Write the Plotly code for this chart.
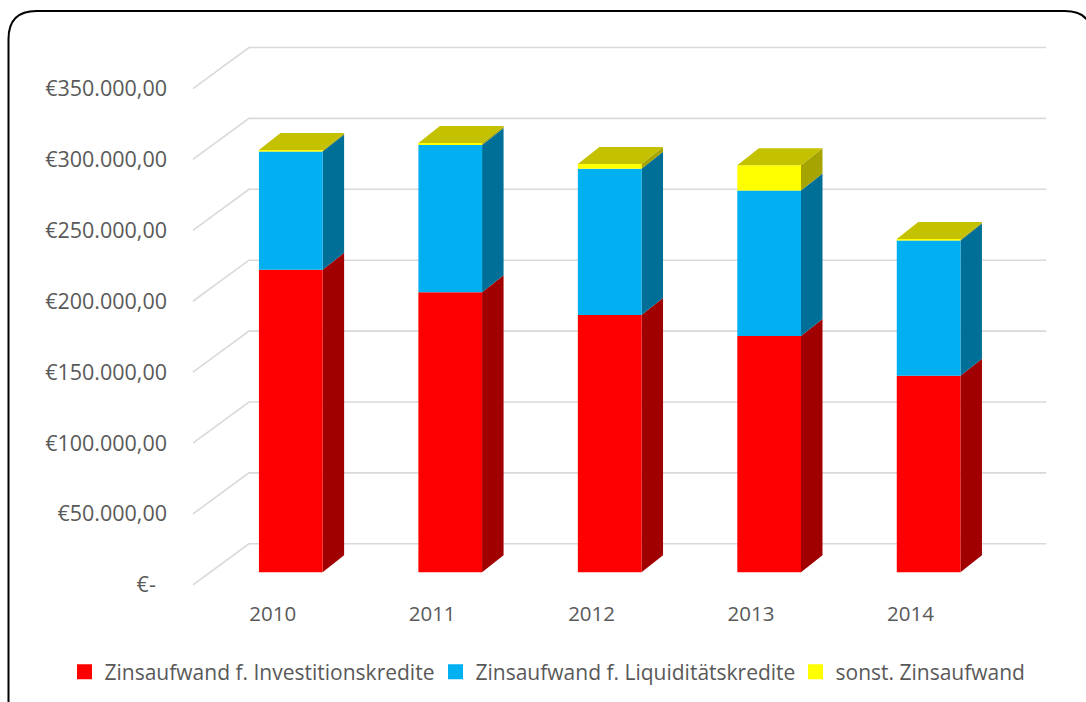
import plotly.graph_objects as go

# ---- data ----
years = ["2010", "2011", "2012", "2013", "2014"]
invest = [213300, 197500, 181500, 166700, 138600]      # Zinsaufwand f. Investitionskredite
liquid = [83500, 103800, 103100, 102600, 95400]        # Zinsaufwand f. Liquiditätskredite
sonst = [1000, 1400, 3300, 17700, 1000]                # sonst. Zinsaufwand
tick_vals = [0, 50000, 100000, 150000, 200000, 250000, 300000, 350000]
tick_text = ["€-\u00a0\u00a0", "€50.000,00", "€100.000,00", "€150.000,00", "€200.000,00",
             "€250.000,00", "€300.000,00", "€350.000,00"]
series_names = ["Zinsaufwand f. Investitionskredite", "Zinsaufwand f. Liquiditätskredite",
                "sonst. Zinsaufwand"]

# ---- styling / pseudo-3D geometry (in axis units) ----
front_col = ["#FF0000", "#00B0F0", "#FFFF00"]
side_col = ["#A00000", "#006F98", "#A6A400"]
top_col = "#C4C200"
grid_col = "#D9D9D9"
txt_col = "#595959"
FONT = "Open Sans"

bar_w = 0.3994        # bar front width (category units)
fx = 0.1135           # bar front x shift relative to category centre
fy = 8830             # bar front base lift (depth of bar front)
ddx, ddy = 0.1348, 12000   # bar depth projection
wdx, wdy = 0.3511, 28950   # back wall depth projection

# figure pixel geometry
L, R, T, B = 177.05, 23.7, 46.4, 103.34
X_RANGE = [-0.6, 4.95]
Y_RANGE = [-10000, 380000]
FW, FH = 1086, 702
PW, PH = FW - L - R, FH - T - B

fig = go.Figure()

# gridlines: diagonal on side wall + horizontal on back wall
gx, gy = [], []
for v in tick_vals:
    gx += [-0.5, -0.5 + wdx, 4.5 + wdx, None]
    gy += [v, v + wdy, v + wdy, None]
fig.add_trace(go.Scatter(x=gx, y=gy, mode="lines", line=dict(color=grid_col, width=1.6),
                         hoverinfo="skip", showlegend=False))

series = [invest, liquid, sonst]
n = len(years)
# faces
for s_idx, vals in enumerate(series):
    fxs, fys, sxs, sys_ = [], [], [], []
    for i in range(n):
        bottom = fy + sum(series[k][i] for k in range(s_idx))
        top = bottom + vals[i]
        x0 = i + fx - bar_w / 2
        x1 = x0 + bar_w
        sxs += [x1, x1 + ddx, x1 + ddx, x1, x1, None]
        sys_ += [bottom, bottom + ddy, top + ddy, top, bottom, None]
        fxs += [x0, x1, x1, x0, x0, None]
        fys += [bottom, bottom, top, top, bottom, None]
    fig.add_trace(go.Scatter(x=sxs, y=sys_, mode="lines", fill="toself", fillcolor=side_col[s_idx],
                             line=dict(width=0, color=side_col[s_idx]), hoverinfo="skip", showlegend=False))
    fig.add_trace(go.Scatter(x=fxs, y=fys, mode="lines", fill="toself", fillcolor=front_col[s_idx],
                             line=dict(width=0, color=front_col[s_idx]), hoverinfo="skip", showlegend=False))

# top faces
txs, tys = [], []
for i in range(n):
    total = fy + invest[i] + liquid[i] + sonst[i]
    x0 = i + fx - bar_w / 2
    x1 = x0 + bar_w
    txs += [x0, x1, x1 + ddx, x0 + ddx, x0, None]
    tys += [total, total, total + ddy, total + ddy, total, None]
fig.add_trace(go.Scatter(x=txs, y=tys, mode="lines", fill="toself", fillcolor=top_col,
                         line=dict(width=0, color=top_col), hoverinfo="skip", showlegend=False))

# legend entries (one legend per entry for exact placement)
legend_ids = ["legend", "legend2", "legend3"]
legend_text_x = [106, 477, 837]
for s_idx, name in enumerate(series_names):
    fig.add_trace(go.Scatter(x=[None], y=[None], mode="markers", name=name, legend=legend_ids[s_idx],
                             marker=dict(symbol="square", size=15, color=front_col[s_idx])))

# rounded frame in paper coords
def px2paper(px, py):
    return (px - L) / PW, (FH - B - py) / PH

pts = {
    "a": px2paper(8.5, 712), "b": px2paper(8.5, 39.5), "c": px2paper(8.5, 11.5), "d": px2paper(36.5, 11.5),
    "e": px2paper(1065, 11.5), "f": px2paper(1093, 11.5), "g": px2paper(1093, 39.5), "h": px2paper(1093, 712),
}
p = lambda k: f"{pts[k][0]:.5f},{pts[k][1]:.5f}"
path = f"M{p('a')} L{p('b')} Q{p('c')} {p('d')} L{p('e')} Q{p('f')} {p('g')} L{p('h')}"
fig.add_shape(type="path", path=path, xref="paper", yref="paper",
              line=dict(color="black", width=2), layer="above")

legends = {}
for k, lid in enumerate(legend_ids):
    legends[lid] = dict(orientation="h", xref="container", yref="container",
                        x=(legend_text_x[k] + 3.5 - 45) / FW, y=(FH - 672) / FH,
                        xanchor="left", yanchor="middle",
                        font=dict(family=FONT, size=21, color=txt_col), bgcolor="rgba(0,0,0,0)")

fig.update_layout(
    width=FW, height=FH,
    margin=dict(l=L, r=R, t=T, b=B, autoexpand=False),
    paper_bgcolor="white", plot_bgcolor="white",
    font=dict(family=FONT, size=20, color=txt_col),
    xaxis=dict(range=X_RANGE, showgrid=False, zeroline=False, showline=False,
               tickmode="array", tickvals=list(range(n)), ticktext=years, ticks="",
               tickfont=dict(size=20.5), ticklabelstandoff=0, fixedrange=True),
    yaxis=dict(range=Y_RANGE, showgrid=False, zeroline=False, showline=False,
               tickmode="array", tickvals=tick_vals, ticktext=tick_text, ticks="",
               tickfont=dict(size=21.5), ticklabelstandoff=9, fixedrange=True),
    showlegend=True,
    **legends,
)

fig.write_html("out.html")
